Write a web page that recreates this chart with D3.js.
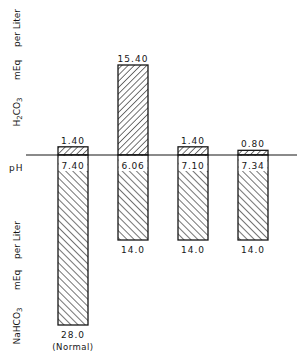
<!DOCTYPE html>
<html><head><meta charset="utf-8">
<script src="https://cdn.jsdelivr.net/npm/d3@7"></script>
<style>body{margin:0;background:#fff}svg{display:block}</style>
</head><body>
<script>
const categories = ["Normal", "Case 2", "Case 3", "Case 4"];
const bottomNotes = ["(Normal)", "", "", ""];
const h2co3 = [1.40, 15.40, 1.40, 0.80];
const nahco3 = [28.0, 14.0, 14.0, 14.0];
const ph = [7.40, 6.06, 7.10, 7.34];

const W = 302, H = 362, baseY = 155;
const ink = "#161616";
const svg = d3.select("body").append("svg").attr("width", W).attr("height", H);
const defs = svg.append("defs");
function hatch(id, angle, gap) {
  const p = defs.append("pattern").attr("id", id).attr("patternUnits", "userSpaceOnUse")
    .attr("width", gap).attr("height", gap).attr("patternTransform", `rotate(${angle})`);
  p.append("rect").attr("width", gap).attr("height", gap).attr("fill", "#fff");
  p.append("line").attr("x1", 0).attr("y1", 0).attr("x2", 0).attr("y2", gap)
    .attr("stroke", ink).attr("stroke-width", 1.2);
}
hatch("up", 45, 4.4);
hatch("down", -45, 5.0);

const x = d3.scaleBand().domain(categories).range([43, 283]).paddingInner(0.5).paddingOuter(0.25);
const yUp = d3.scaleLinear().domain([0, 15.4]).range([baseY, 65]);
const yDown = d3.scaleLinear().domain([0, 28]).range([baseY, 325]);
const font = "'DejaVu Sans', sans-serif";

const g = svg.append("g");
categories.forEach((c, i) => {
  const x0 = x(c), bw = x.bandwidth(), cx = x0 + bw / 2;
  g.append("rect").attr("x", x0).attr("y", yUp(h2co3[i])).attr("width", bw)
    .attr("height", baseY - yUp(h2co3[i])).attr("fill", "url(#up)")
    .attr("stroke", ink).attr("stroke-width", 1.3);
  g.append("rect").attr("x", x0).attr("y", baseY).attr("width", bw)
    .attr("height", yDown(nahco3[i]) - baseY).attr("fill", "url(#down)")
    .attr("stroke", ink).attr("stroke-width", 1.3);
  g.append("rect").attr("x", x0 + 0.8).attr("y", baseY + 1).attr("width", bw - 1.6)
    .attr("height", 15).attr("fill", "#fff");
  g.append("text").attr("x", cx).attr("y", baseY + 14).attr("text-anchor", "middle")
    .attr("font-family", font).attr("font-size", 9).attr("letter-spacing", 0.8)
    .attr("fill", ink).text(ph[i].toFixed(2));
  g.append("text").attr("x", cx).attr("y", yUp(h2co3[i]) - 3).attr("text-anchor", "middle")
    .attr("font-family", font).attr("font-size", 9).attr("letter-spacing", 1)
    .attr("fill", ink).text(h2co3[i].toFixed(2));
  g.append("text").attr("x", cx).attr("y", yDown(nahco3[i]) + 13).attr("text-anchor", "middle")
    .attr("font-family", font).attr("font-size", 9).attr("letter-spacing", 1)
    .attr("fill", ink).text(nahco3[i].toFixed(1));
  if (bottomNotes[i]) {
    g.append("text").attr("x", cx).attr("y", yDown(nahco3[i]) + 25).attr("text-anchor", "middle")
      .attr("font-family", font).attr("font-size", 8.5).attr("letter-spacing", 0.5)
      .attr("fill", ink).text(bottomNotes[i]);
  }
});

svg.append("line").attr("x1", 26).attr("x2", 297).attr("y1", baseY).attr("y2", baseY)
  .attr("stroke", ink).attr("stroke-width", 1.2);
svg.append("text").attr("x", 9).attr("y", 171).attr("font-family", font)
  .attr("font-size", 9).attr("fill", ink).attr("letter-spacing", 1).text("pH");

function rotLabel(cy, parts) {
  const t = svg.append("text").attr("transform", `translate(20,${cy}) rotate(-90)`)
    .attr("text-anchor", "middle").attr("font-family", font).attr("font-size", 9)
    .attr("fill", ink);
  parts.forEach(p => {
    const s = t.append("tspan").text(p.t);
    if (p.sub) s.attr("font-size", 7).attr("dy", p.dy);
    else if (p.dy) s.attr("dy", p.dy);
  });
}
rotLabel(112, [{t: "H"}, {t: "2", sub: true, dy: 2}, {t: "CO", dy: -2}, {t: "3", sub: true, dy: 2}]);
rotLabel(70, [{t: "mEq"}]);
rotLabel(28, [{t: "per Liter"}]);
rotLabel(326, [{t: "NaHCO"}, {t: "3", sub: true, dy: 2}]);
rotLabel(280, [{t: "mEq"}]);
rotLabel(240, [{t: "per Liter"}]);
</script>
</body></html>
